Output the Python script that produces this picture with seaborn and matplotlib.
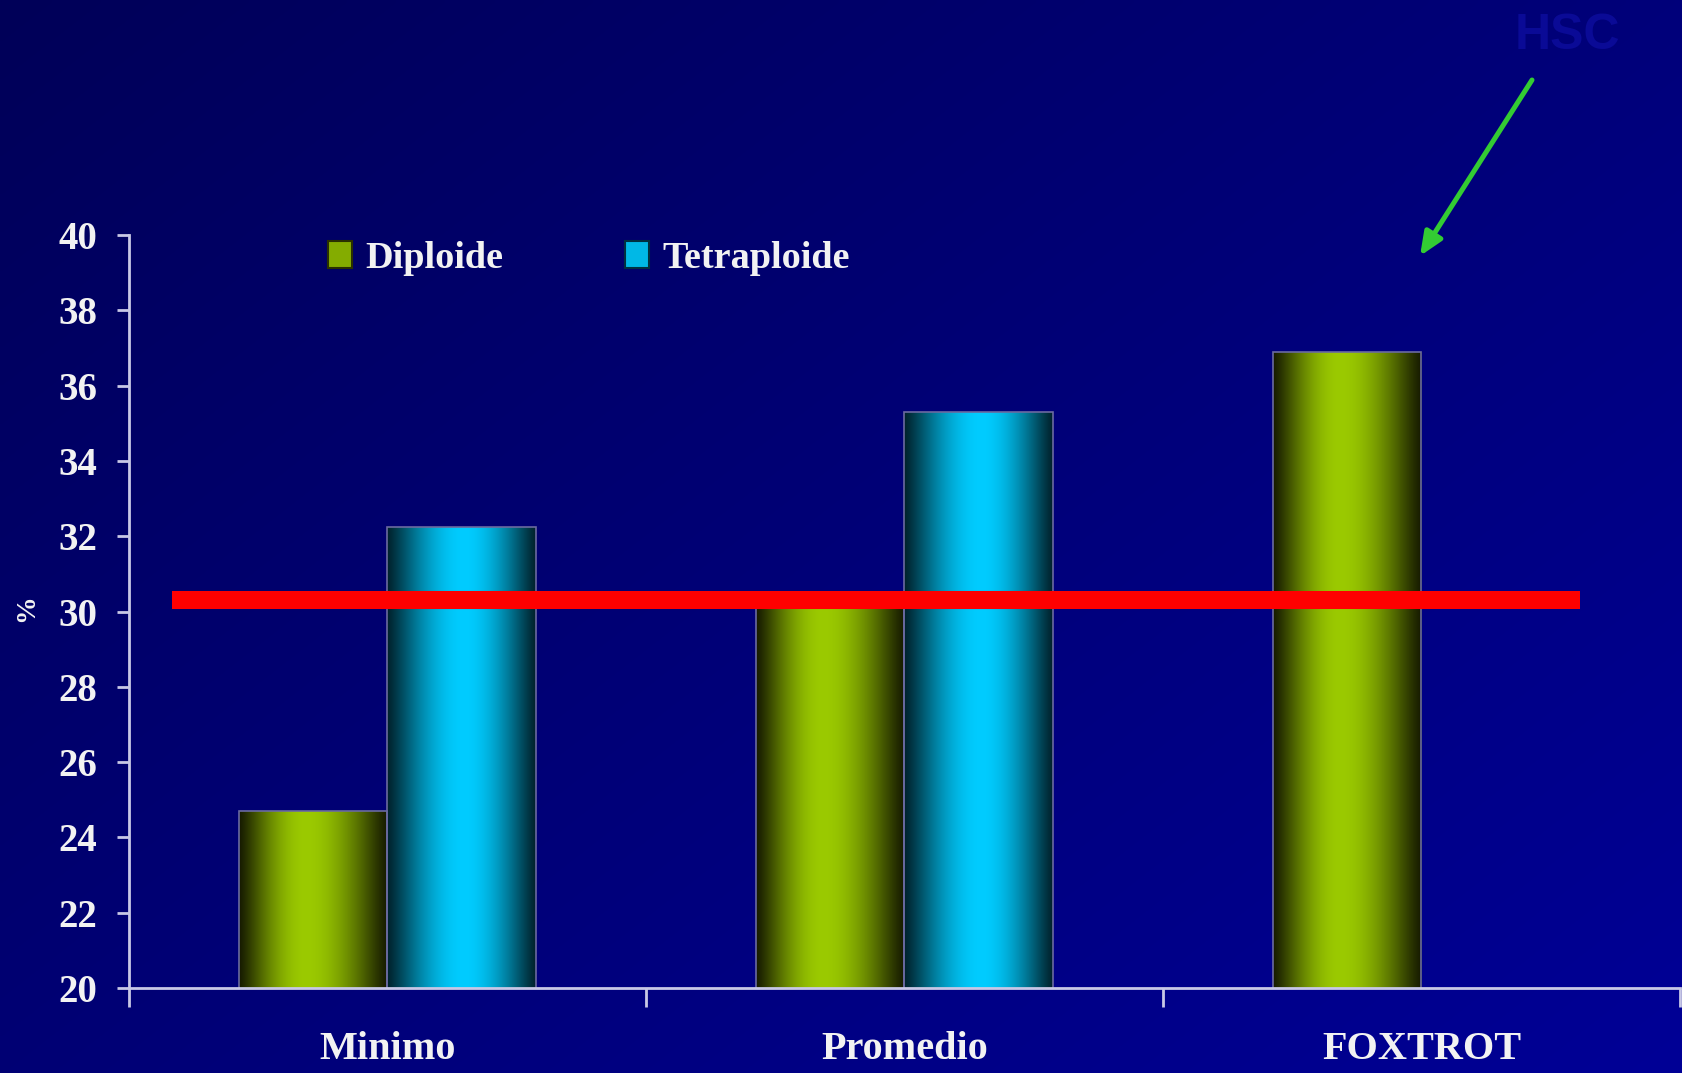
import numpy as np
import pandas as pd
import matplotlib
matplotlib.use("Agg")
import matplotlib.pyplot as plt
import seaborn as sns
from matplotlib.patches import Patch

# ---------------- data ----------------
categories = ["Minimo", "Promedio", "FOXTROT"]
series_names = ["Diploide", "Tetraploide"]
diploide = [24.7, 30.2, 36.9]
tetraploide = [32.25, 35.3, np.nan]
threshold = 30.3
threshold_span = (-0.417, 2.307)
yticks = list(range(20, 41, 2))
ylabel = "%"
watermark = "HSC"

# ---------------- style ----------------
sns.set_style("ticks")
plt.rcParams["font.family"] = ["Liberation Serif", "DejaVu Serif"]
plt.rcParams["font.weight"] = "bold"

W, H = 1683, 1073
TXT = "#f2f2f2"
SPINE = "#c8c8e6"
GREEN_BRIGHT = np.array([155, 202, 0]) / 255
GREEN_DARK = np.array([22, 26, 0]) / 255
CYAN_BRIGHT = np.array([0, 204, 255]) / 255
CYAN_DARK = np.array([0, 34, 44]) / 255
YLO, YHI = 20, 40

df = pd.DataFrame({
    "cat": categories * 2,
    "serie": [series_names[0]] * 3 + [series_names[1]] * 3,
    "val": diploide + tetraploide,
})

fig = plt.figure(figsize=(W / 100, H / 100), dpi=100)

# background gradient
bg = fig.add_axes([0, 0, 1, 1], zorder=-10)
yy, xx = np.mgrid[0:1:200j, 0:1:300j]
t = 0.55 * xx + 0.45 * yy
img = np.zeros((200, 300, 3))
img[..., 2] = (88 + 62 * t) / 255
bg.imshow(img, aspect="auto", extent=[0, 1, 0, 1], origin="upper", interpolation="bilinear")
bg.set_axis_off()

ax = fig.add_axes([129 / W, 85 / H, 1551 / W, 753 / H])
ax.set_facecolor("none")

sns.barplot(data=df, x="cat", y="val", hue="serie", hue_order=series_names,
            palette=[tuple(GREEN_BRIGHT), tuple(CYAN_BRIGHT)], width=0.573,
            saturation=1, errorbar=None, legend=False, ax=ax,
            edgecolor="#6a6aa0", linewidth=1.2)

# cylinder-like shading for every bar
N = 256
tt = np.linspace(0, 1, N)
for p in list(ax.patches):
    h = p.get_height()
    if not np.isfinite(h) or h == 0:
        continue
    fc = np.array(p.get_facecolor()[:3])
    if np.allclose(fc, GREEN_BRIGHT, atol=0.02):
        bright, dark, peak = GREEN_BRIGHT, GREEN_DARK, 0.45
    else:
        bright, dark, peak = CYAN_BRIGHT, CYAN_DARK, 0.52
    u = np.where(tt < peak, 0.5 * tt / peak, 0.5 + 0.5 * (tt - peak) / (1 - peak))
    f = np.sin(np.pi * u) ** 1.15
    grad = dark[None, :] + (bright - dark)[None, :] * f[:, None]
    x0, y0, w = p.get_x(), p.get_y(), p.get_width()
    top = y0 + h
    bottom = max(y0, YLO)
    im = ax.imshow(grad[None, :, :], extent=[x0, x0 + w, bottom, top], aspect="auto",
                   interpolation="bilinear", zorder=p.get_zorder() - 0.1)
    im.set_clip_path(p)
    p.set_facecolor("none")

# threshold line
ax.hlines(threshold, threshold_span[0], threshold_span[1], color="#ff0000", lw=13, zorder=5)

ax.set_xlim(-0.5, 2.5)
ax.set_ylim(YLO, YHI)

# axes styling
for s in ["top", "right"]:
    ax.spines[s].set_visible(False)
for s in ["left", "bottom"]:
    ax.spines[s].set_color(SPINE)
    ax.spines[s].set_linewidth(2)
    ax.spines[s].set_zorder(6)

ax.set_yticks(yticks)
ax.set_yticklabels([str(v) for v in yticks])
ax.tick_params(axis="y", direction="out", length=9, width=2, color=SPINE,
               labelsize=28, labelcolor=TXT, pad=14)
ax.set_xticks([-0.5, 0.5, 1.5, 2.5])
ax.set_xticklabels(["", "", "", ""])
ax.set_xticks([0, 1, 2], minor=True)
ax.set_xticklabels(categories, minor=True)
ax.tick_params(axis="x", which="major", direction="out", length=14, width=2, color=SPINE)
ax.tick_params(axis="x", which="minor", length=0, labelsize=29, labelcolor=TXT, pad=31)
for lab in ax.get_xticklabels(minor=True) + ax.get_yticklabels():
    lab.set_fontweight("bold")

ax.set_xlabel("")
ax.set_ylabel(ylabel, fontsize=20, color=TXT, fontweight="bold")
ax.yaxis.set_label_coords(-0.058, 0.505)

# legend
handles = [Patch(facecolor=tuple(GREEN_BRIGHT * 0.85), edgecolor="#2a3000", linewidth=1.5),
           Patch(facecolor=tuple(CYAN_BRIGHT * 0.9), edgecolor="#003040", linewidth=1.5)]
leg = ax.legend(handles=handles, labels=series_names, ncol=2, frameon=False,
                loc="center left", bbox_to_anchor=(328 / W, 1 - 258 / H),
                bbox_transform=fig.transFigure, prop={"size": 27.5, "weight": "bold"},
                handlelength=0.62, handleheight=0.7, handletextpad=0.35,
                columnspacing=3.2, borderpad=0, borderaxespad=0, labelcolor=TXT)

# arrow
ax.annotate("", xy=(1420, H - 256), xycoords="figure pixels",
            xytext=(1532, H - 80), textcoords="figure pixels",
            arrowprops=dict(arrowstyle="-|>,head_length=1.4,head_width=0.6",
                            lw=3.6, color="#33cc33", shrinkA=0, shrinkB=0),
            annotation_clip=False)

# watermark
fig.text(1567 / W, 1 - 36 / H, watermark, ha="center", va="center", fontsize=36,
         family="Liberation Sans", fontweight="bold", color="#0a0a96")

fig.savefig("out.png", dpi=100)
